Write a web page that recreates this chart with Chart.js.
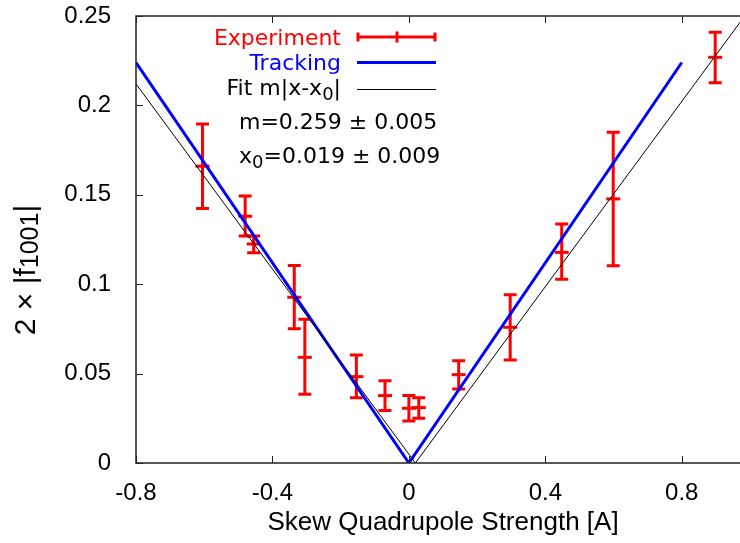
<!DOCTYPE html>
<html>
<head>
<meta charset="utf-8">
<script src="https://cdn.jsdelivr.net/npm/chart.js@4.4.1/dist/chart.umd.min.js"></script>
<style>
  html, body { margin: 0; padding: 0; background: #fff; overflow: hidden; }
  #wrap { width: 740px; height: 543px; overflow: hidden; }
</style>
</head>
<body>
<div id="wrap"><canvas id="chart" width="760" height="543"></canvas></div>
<script>
// measured points (skew quad current, 2|f1001| and its error bar ends)
const expX = [-0.605, -0.48, -0.455, -0.336, -0.305, -0.154, -0.07, 0.0, 0.029, 0.146, 0.297, 0.448, 0.599, 0.898];
const expY = [0.166, 0.138, 0.1225, 0.0927, 0.0591, 0.0483, 0.0377, 0.0306, 0.031, 0.0494, 0.0759, 0.1178, 0.1477, 0.2269];
const expLow = [0.1424, 0.127, 0.1176, 0.0751, 0.0384, 0.0365, 0.0293, 0.0235, 0.025, 0.0414, 0.0576, 0.1027, 0.1103, 0.2127];
const expHigh = [0.1896, 0.1493, 0.127, 0.1104, 0.0804, 0.0604, 0.046, 0.0377, 0.0365, 0.0572, 0.0941, 0.1337, 0.185, 0.2409];

// tracking simulation
const trackX = [-0.8, 0, 0.8];
const trackY = [0.224, 0, 0.224];

// fit m|x-x0|
const fitX = [-0.8, 0.019, 1.0];
const fitY = [0.212, 0, 0.254];

const xTicks = [-0.8, -0.4, 0, 0.4, 0.8];
const xTickLabels = ['-0.8', '-0.4', '0', '0.4', '0.8'];
const yTicks = [0, 0.05, 0.1, 0.15, 0.2, 0.25];
const yTickLabels = ['0', '0.05', '0.1', '0.15', '0.2', '0.25'];

const KEYFONT = 'DejaVu Sans';
const AXFONT = 'Liberation Sans';
const RED = '#ff0000', BLUE = '#0000ff';

function pts(xs, ys){
  return xs.map((x, i) => ({x: x, y: ys[i]}));
}

// text with subscripts: parts = [[text, isSub], ...]
function richWidth(ctx, parts, size, sub, fam){
  let w = 0;
  parts.forEach(([t, s]) => {
    ctx.font = (s ? sub : size) + 'px "' + fam + '"';
    w += ctx.measureText(t).width;
  });
  return w;
}
function drawRich(ctx, parts, x, y, size, sub, fam, color, drop){
  ctx.fillStyle = color;
  ctx.textBaseline = 'alphabetic';
  ctx.textAlign = 'left';
  parts.forEach(([t, s]) => {
    ctx.font = (s ? sub : size) + 'px "' + fam + '"';
    ctx.fillText(t, x, s ? y + drop : y);
    x += ctx.measureText(t).width;
  });
}

const errorBars = {
  id: 'errorBars',
  afterDatasetDraw(chart, args){
    if (args.index !== 0) return;
    const {ctx, scales: {x, y}} = chart;
    ctx.save();
    ctx.strokeStyle = RED;
    ctx.lineWidth = 3;
    expX.forEach((v, i) => {
      const px = x.getPixelForValue(v);
      const lo = y.getPixelForValue(expLow[i]);
      const hi = y.getPixelForValue(expHigh[i]);
      ctx.beginPath();
      ctx.moveTo(px, lo); ctx.lineTo(px, hi);
      ctx.moveTo(px - 6.5, lo); ctx.lineTo(px + 6.5, lo);
      ctx.moveTo(px - 6.5, hi); ctx.lineTo(px + 6.5, hi);
      ctx.stroke();
    });
    ctx.restore();
  }
};

const frame = {
  id: 'frame',
  afterDraw(chart){
    const {ctx, chartArea: a, scales: {x, y}} = chart;
    ctx.save();
    ctx.strokeStyle = '#222';
    ctx.lineWidth = 1.5;
    ctx.strokeRect(a.left, a.top, a.right - a.left, a.bottom - a.top);
    ctx.beginPath();
    xTicks.forEach(v => {
      const px = Math.round(x.getPixelForValue(v)) + 0.5;
      ctx.moveTo(px, a.bottom); ctx.lineTo(px, a.bottom - 7);
      ctx.moveTo(px, a.top); ctx.lineTo(px, a.top + 7);
    });
    yTicks.forEach(v => {
      const py = Math.round(y.getPixelForValue(v)) + 0.5;
      ctx.moveTo(a.left, py); ctx.lineTo(a.left + 7, py);
      ctx.moveTo(a.right, py); ctx.lineTo(a.right - 7, py);
    });
    ctx.lineWidth = 1;
    ctx.stroke();

    // key
    const size = 22, tx = 341, sx0 = 357, sx1 = 436;
    ctx.textAlign = 'right';
    ctx.textBaseline = 'alphabetic';
    ctx.font = size + 'px "' + KEYFONT + '"';
    ctx.fillStyle = RED;
    ctx.fillText('Experiment', tx, 45);
    ctx.fillStyle = BLUE;
    ctx.fillText('Tracking', tx, 69.5);
    const fitParts = [['Fit m|x-x', false], ['0', true], ['|', false]];
    drawRich(ctx, fitParts, tx - richWidth(ctx, fitParts, size, 18, KEYFONT), 95, size, 18, KEYFONT, '#000', 5);

    ctx.strokeStyle = RED; ctx.lineWidth = 3;
    ctx.beginPath();
    ctx.moveTo(sx0, 37); ctx.lineTo(sx1, 37);
    ctx.moveTo(sx0 + 1, 32.5); ctx.lineTo(sx0 + 1, 41.5);
    ctx.moveTo(sx1 - 1, 32.5); ctx.lineTo(sx1 - 1, 41.5);
    ctx.moveTo(397, 31.5); ctx.lineTo(397, 42.5);
    ctx.stroke();
    ctx.strokeStyle = BLUE; ctx.lineWidth = 3;
    ctx.beginPath(); ctx.moveTo(sx0, 62.5); ctx.lineTo(sx1, 62.5); ctx.stroke();
    ctx.strokeStyle = '#000'; ctx.lineWidth = 1;
    ctx.beginPath(); ctx.moveTo(sx0, 89.5); ctx.lineTo(sx1, 89.5); ctx.stroke();

    drawRich(ctx, [['m=0.259 \u00b1 0.005', false]], 239, 129, size, 18, KEYFONT, '#000', 5);
    drawRich(ctx, [['x', false], ['0', true], ['=0.019 \u00b1 0.009', false]], 239, 163, size, 18, KEYFONT, '#000', 5);

    // y axis title, rotated
    const yParts = [['2 \u00d7 |f', false], ['1001', true], ['|', false]];
    const w = richWidth(ctx, yParts, 30, 25, AXFONT);
    ctx.translate(35, 270 + w / 2);
    ctx.rotate(-Math.PI / 2);
    drawRich(ctx, yParts, 0, 0, 30, 25, AXFONT, '#000', 3);
    ctx.restore();
  }
};

new Chart(document.getElementById('chart'), {
  type: 'scatter',
  data: {
    datasets: [
      {
        label: 'Experiment',
        data: pts(expX, expY),
        pointStyle: 'line',
        pointRadius: 7,
        pointBorderWidth: 3,
        borderColor: RED,
        backgroundColor: RED,
        showLine: false,
        order: 3
      },
      {
        label: 'Tracking',
        data: pts(trackX, trackY),
        showLine: true,
        borderColor: BLUE,
        borderWidth: 3,
        pointRadius: 0,
        order: 2
      },
      {
        label: 'Fit m|x-x0|',
        data: pts(fitX, fitY),
        showLine: true,
        borderColor: '#000',
        borderWidth: 1,
        pointRadius: 0,
        order: 1
      }
    ]
  },
  options: {
    responsive: false,
    animation: false,
    devicePixelRatio: 1,
    layout: { padding: { left: 0, right: 9, top: 16, bottom: 0 } },
    plugins: { legend: { display: false }, tooltip: { enabled: false } },
    scales: {
      x: {
        type: 'linear',
        min: -0.8,
        max: 1.0,
        grid: { display: false },
        border: { display: false },
        afterBuildTicks: s => { s.ticks = xTicks.map(v => ({value: v})); },
        afterFit: s => { s.height = 80; s.paddingLeft = 0; s.paddingRight = 0; },
        ticks: {
          padding: 8,
          color: '#000',
          font: { family: AXFONT, size: 24 },
          callback: (v, i) => xTickLabels[i]
        },
        title: {
          display: true,
          text: 'Skew Quadrupole Strength [A]',
          color: '#000',
          font: { family: AXFONT, size: 26 },
          padding: { top: 0, bottom: 5 }
        }
      },
      y: {
        type: 'linear',
        min: 0,
        max: 0.25,
        grid: { display: false },
        border: { display: false },
        afterBuildTicks: s => { s.ticks = yTicks.map(v => ({value: v})); },
        afterFit: s => { s.width = 136; s.paddingTop = 0; s.paddingBottom = 0; },
        ticks: {
          padding: 17,
          color: '#000',
          font: { family: AXFONT, size: 24 },
          callback: (v, i) => yTickLabels[i]
        }
      }
    }
  },
  plugins: [errorBars, frame]
});
</script>
</body>
</html>
